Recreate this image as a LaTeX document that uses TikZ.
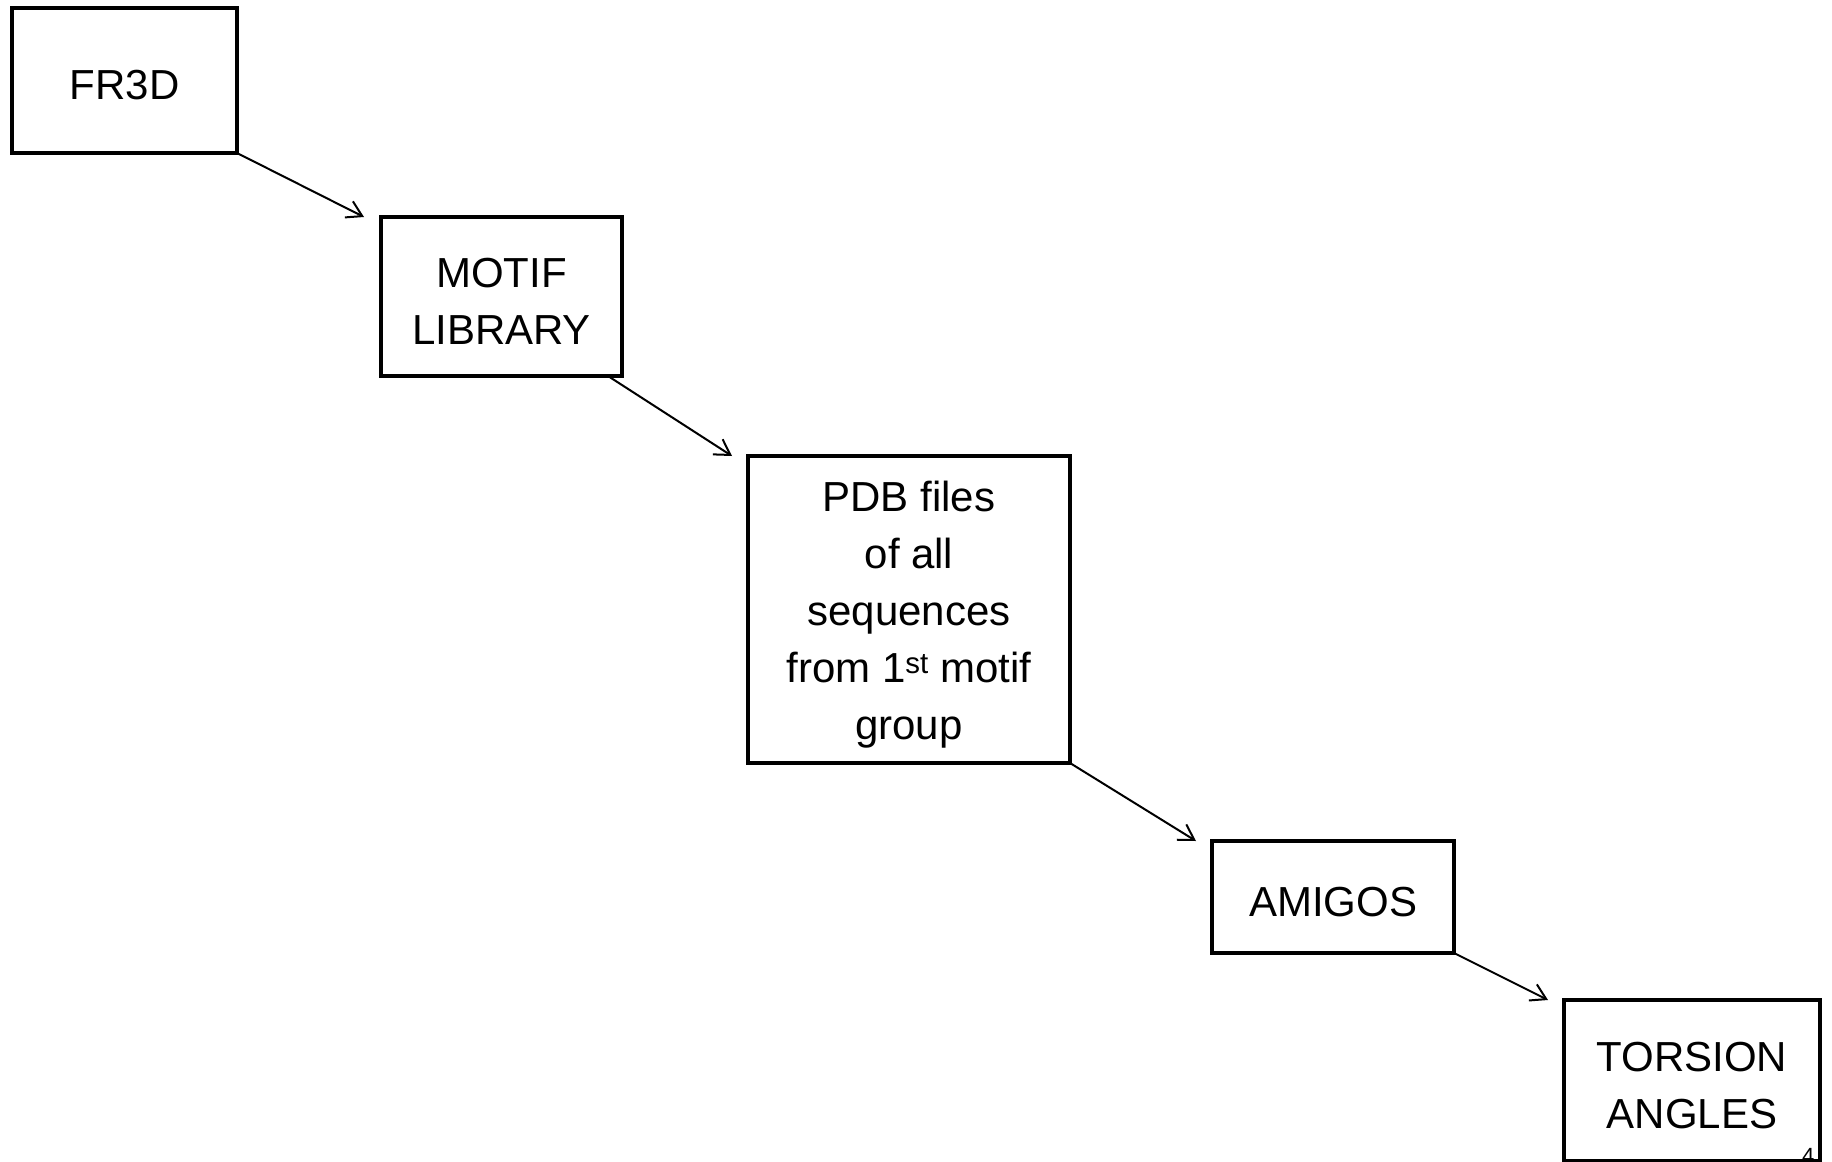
\documentclass[tikz,border=0pt]{standalone}
\usepackage{fontspec}
\setmainfont{Liberation Sans}
\usetikzlibrary{arrows.meta,calc}
\tikzset{
  flowbox/.style={draw=black, line width=4pt, inner sep=0pt, outer sep=0pt, rectangle},
  flowtext/.style={inner sep=0pt, align=center, font=\fontsize{42}{57}\selectfont, yshift=-5pt},
  flowarrow/.style={line width=2pt, -{Straight Barb[length=15pt,width=18pt,line width=2pt]}}
}
\begin{document}
\begin{tikzpicture}[x=1pt,y=-1pt]
\useasboundingbox (0,0) rectangle (1832,1162);
\node[flowbox, minimum width=225pt, minimum height=145pt] (fr3d) at (124.5,80.5) {};
\node[flowtext] (fr3dtxt) at (fr3d.center) {FR3D};
\node[flowbox, minimum width=241pt, minimum height=159pt] (motif) at (501.5,296.5) {};
\node[flowtext] (motiftxt) at (motif.center) {MOTIF\\LIBRARY};
\node[flowbox, minimum width=322pt, minimum height=307pt] (pdb) at (909,609.5) {};
\node[flowtext] (pdbtxt) at (pdb.center) {PDB files\\of all\\sequences\\from 1\textsuperscript{st} motif\\group};
\node[flowbox, minimum width=242pt, minimum height=112pt] (amigos) at (1333,897) {};
\node[flowtext] (amigostxt) at (amigos.center) {AMIGOS};
\node[flowbox, minimum width=256pt, minimum height=161pt] (torsion) at (1692,1080.5) {};
\node[flowtext] (torsiontxt) at (torsion.center) {TORSION\\ANGLES};
\node[anchor=north west, inner sep=0pt, font=\fontsize{22}{24}\selectfont] (pagenum) at (1802,1148) {4};
\coordinate (e1) at ($(motif.north west)+(-17,0)$);
\coordinate (s2) at ($(motif.south east)+(-14,0)$);
\coordinate (e2) at ($(pdb.north west)+(-16,0)$);
\coordinate (e3) at ($(amigos.north west)+(-16,0)$);
\coordinate (e4) at ($(torsion.north west)+(-16,0)$);
\draw[flowarrow] (fr3d.south east) -- (e1);
\draw[flowarrow] (s2) -- (e2);
\draw[flowarrow] (pdb.south east) -- (e3);
\draw[flowarrow] (amigos.south east) -- (e4);
\end{tikzpicture}
\end{document}
